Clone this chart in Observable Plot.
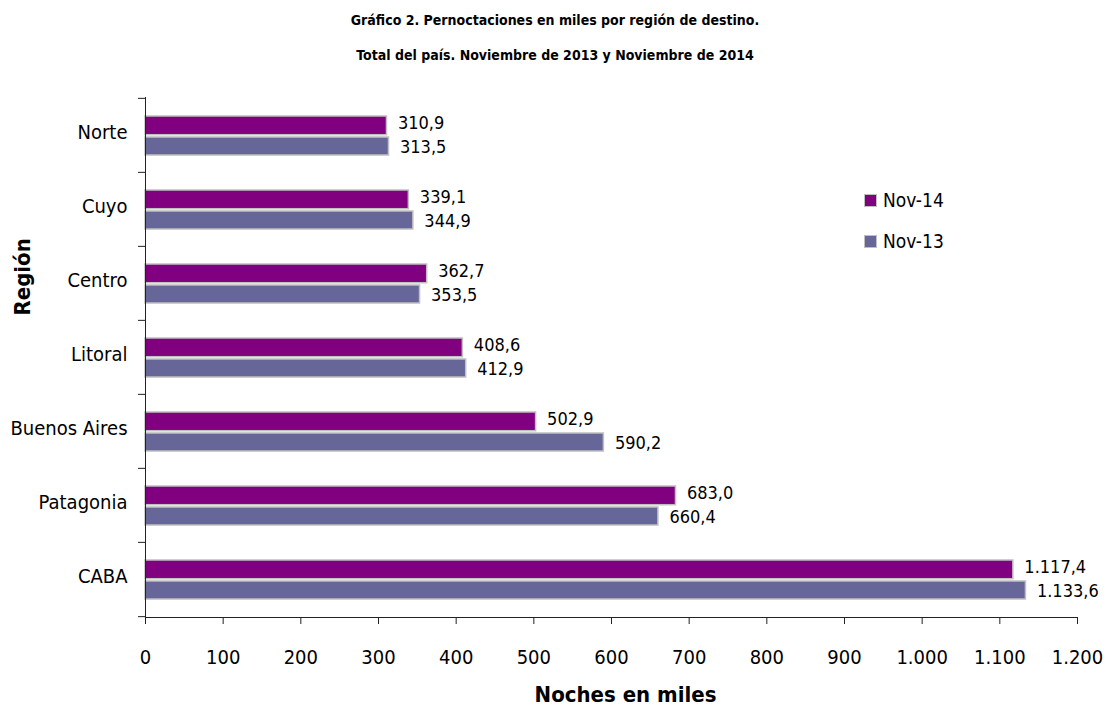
<!DOCTYPE html>
<html>
<head>
<meta charset="utf-8">
<script src="https://cdn.jsdelivr.net/npm/d3@7"></script>
<script src="https://cdn.jsdelivr.net/npm/@observablehq/plot@0.6"></script>
<style>
  body { margin: 0; background: white; }
  #wrap { position: relative; width: 1110px; height: 708px; font-family: "DejaVu Sans Condensed", "Liberation Sans Narrow", sans-serif; color: black; }
  #title { height: 80px; text-align: center; font-weight: bold; font-size: 14px; line-height: 35px; padding-top: 3px; box-sizing: border-box; }
  #legend { position: absolute; left: 864px; top: 187px; font-size: 19px; }
  .li { display: flex; align-items: center; height: 26px; margin-bottom: 15px; }
  .sw { width: 11px; height: 11px; border: 1.5px solid #c0c0c0; margin-right: 6px; }
  svg { display: block; }
</style>
</head>
<body>
<div id="wrap">
  <div id="title">Gráfico 2. Pernoctaciones en miles por región de destino.<br>Total del país. Noviembre de 2013 y Noviembre de 2014</div>
  <div id="chart"></div>
  <div id="legend"></div>
</div>
<script>
const regions = ["Norte", "Cuyo", "Centro", "Litoral", "Buenos Aires", "Patagonia", "CABA"];
const nov14 = [310.9, 339.1, 362.7, 408.6, 502.9, 683.0, 1117.4];
const nov13 = [313.5, 344.9, 353.5, 412.9, 590.2, 660.4, 1133.6];
const seriesNames = ["Nov-14", "Nov-13"];
const seriesColors = ["#800080", "#666699"];
const xTicks = [0, 100, 200, 300, 400, 500, 600, 700, 800, 900, 1000, 1100, 1200];

const locale = d3.formatLocale({decimal: ",", thousands: ".", grouping: [3], currency: ["$", ""]});
const fmtInt = locale.format(",");
const fmtVal = locale.format(",.1f");

const d14 = regions.map((r, i) => ({region: r, series: "Nov-14", value: nov14[i]}));
const d13 = regions.map((r, i) => ({region: r, series: "Nov-13", value: nov13[i]}));

const W = 1110, H = 628, mt = 17, mb = 91, ml = 145, mr = 33;
const bw = (H - mt - mb) / regions.length;
const font = '"DejaVu Sans Condensed", "Liberation Sans Narrow", sans-serif';

const chart = Plot.plot({
  width: W, height: H,
  marginLeft: ml, marginRight: mr, marginTop: mt, marginBottom: mb,
  style: {fontFamily: font, fontSize: "20px", color: "black", background: "white"},
  x: {domain: [0, 1200]},
  y: {domain: regions, padding: 0},
  color: {domain: seriesNames, range: seriesColors},
  marks: [
    Plot.barX(d14, {x: "value", y: "region", fill: "series", stroke: "#c0c0c0", strokeWidth: 1.5, insetTop: 18, insetBottom: bw - 37}),
    Plot.barX(d13, {x: "value", y: "region", fill: "series", stroke: "#c0c0c0", strokeWidth: 1.5, insetTop: 39, insetBottom: 17}),
    Plot.text(d14, {x: "value", y: "region", text: d => fmtVal(d.value), textAnchor: "start", dx: 11, dy: -12, fontSize: 18, fill: "black"}),
    Plot.text(d13, {x: "value", y: "region", text: d => fmtVal(d.value), textAnchor: "start", dx: 11, dy: 12, fontSize: 18, fill: "black"}),
    Plot.axisX({ticks: xTicks, tickFormat: fmtInt, tickSize: 7, tickPadding: 25, label: null, stroke: "#222"}),
    Plot.axisY({tickSize: 0, tickPadding: 18, label: null, dy: -3}),
    Plot.axisY({tickSize: 7, text: null, label: null, dy: -bw / 2, stroke: "#222"}),
    Plot.axisY({ticks: ["CABA"], tickSize: 7, text: null, label: null, dy: bw / 2, stroke: "#222"}),
    Plot.ruleX([0], {stroke: "#222"}),
    Plot.frame({anchor: "bottom", stroke: "#222"}),
    Plot.text(["Noches en miles"], {text: d => d, frameAnchor: "bottom", dx: 14, dy: 84, fontWeight: "bold", fontSize: 22, fill: "black"}),
    Plot.text(["Región"], {text: d => d, frameAnchor: "left", dx: -123, dy: -42, rotate: -90, fontWeight: "bold", fontSize: 22, fill: "black"})
  ]
});
document.getElementById("chart").appendChild(chart);

const legend = document.getElementById("legend");
seriesNames.forEach((s, i) => {
  const row = document.createElement("div");
  row.className = "li";
  const sw = document.createElement("div");
  sw.className = "sw";
  sw.style.background = seriesColors[i];
  const t = document.createElement("span");
  t.textContent = s;
  row.appendChild(sw);
  row.appendChild(t);
  legend.appendChild(row);
});
</script>
</body>
</html>
